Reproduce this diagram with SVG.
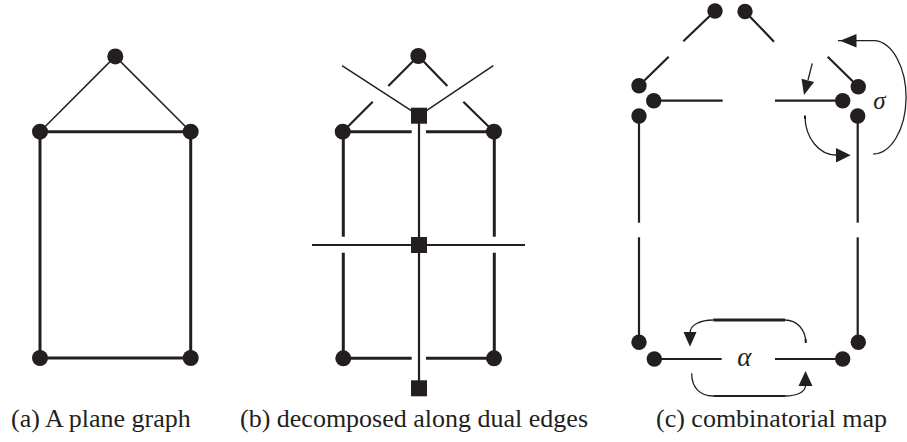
<svg xmlns="http://www.w3.org/2000/svg" width="907" height="442" viewBox="0 0 907 442">
<defs>
<style>
.thick{stroke:#231f20;stroke-width:3;fill:none;stroke-linecap:butt}
.mid{stroke:#231f20;stroke-width:2.2;fill:none}
.thin{stroke:#231f20;stroke-width:1.5;fill:none}
.arc{stroke:#231f20;stroke-width:1.3;fill:none}
.dot{fill:#231f20}
.sq{fill:#231f20}
.head{fill:#231f20}
.cap{font-family:"Liberation Serif","Times New Roman",serif;font-size:26px;fill:#231f20}
.greek{font-family:"Liberation Serif","DejaVu Serif",serif;font-style:italic;fill:#231f20}
</style>
</defs>
<rect width="907" height="442" fill="#ffffff"/>

<!-- Panel (a) -->
<g id="edges-a">
<line class="thin" x1="115.3" y1="56.4" x2="40" y2="131.7"/>
<line class="thin" x1="115.3" y1="56.4" x2="190.7" y2="131.7"/>
<line class="thick" x1="40" y1="131.7" x2="190.7" y2="131.7"/>
<line class="thick" x1="40" y1="131.7" x2="40" y2="358"/>
<line class="thick" x1="190.7" y1="131.7" x2="190.7" y2="358"/>
<line class="thick" x1="40" y1="358" x2="190.7" y2="358"/>
</g>
<g id="a-v1"><circle class="dot" cx="115.3" cy="56.4" r="8"/></g>
<g id="a-v2"><circle class="dot" cx="40" cy="131.7" r="8"/></g>
<g id="a-v3"><circle class="dot" cx="190.7" cy="131.7" r="8"/></g>
<g id="a-v4"><circle class="dot" cx="40" cy="358" r="8"/></g>
<g id="a-v5"><circle class="dot" cx="190.7" cy="358" r="8"/></g>

<!-- Panel (b) -->
<g id="edges-b">
<line class="mid" x1="418.3" y1="56" x2="388.3" y2="86"/>
<line class="mid" x1="372.7" y1="101.7" x2="342.7" y2="131.7"/>
<line class="mid" x1="418.3" y1="56" x2="447.3" y2="86"/>
<line class="mid" x1="463.3" y1="101.7" x2="494" y2="131.7"/>
<line class="thin" x1="342" y1="65.7" x2="419" y2="115.7"/>
<line class="thin" x1="493.3" y1="65.7" x2="419" y2="115.7"/>
<line class="thick" x1="342.7" y1="131.7" x2="411.7" y2="131.7"/>
<line class="thick" x1="426" y1="131.7" x2="494" y2="131.7"/>
<line class="thick" x1="343.3" y1="131.7" x2="343.3" y2="236.7"/>
<line class="thick" x1="343.3" y1="252.7" x2="343.3" y2="358.3"/>
<line class="thick" x1="494.3" y1="131.7" x2="494.3" y2="236.7"/>
<line class="thick" x1="494.3" y1="252.7" x2="494.3" y2="358.3"/>
<line class="mid" x1="419" y1="115.7" x2="419" y2="388.3"/>
<line class="mid" x1="312" y1="245" x2="525" y2="245"/>
<line class="thick" x1="343.3" y1="358.3" x2="411.7" y2="358.3"/>
<line class="thick" x1="426" y1="358.3" x2="494" y2="358.3"/>
</g>
<g id="b-v1"><circle class="dot" cx="418.3" cy="56" r="8"/></g>
<g id="b-v2"><circle class="dot" cx="342.7" cy="131.7" r="8"/></g>
<g id="b-v3"><circle class="dot" cx="494" cy="131.7" r="8"/></g>
<g id="b-v4"><circle class="dot" cx="343.3" cy="358.3" r="8"/></g>
<g id="b-v5"><circle class="dot" cx="494" cy="358.3" r="8"/></g>
<g id="b-f1"><rect class="sq" x="411" y="107.7" width="16" height="16"/></g>
<g id="b-f2"><rect class="sq" x="411" y="237" width="16" height="16"/></g>
<g id="b-f3"><rect class="sq" x="411" y="380.3" width="16" height="16"/></g>

<!-- Panel (c) -->
<g id="edges-c">
<line class="mid" x1="715" y1="11" x2="683.3" y2="41.3"/>
<line class="mid" x1="668.7" y1="56.7" x2="639" y2="85.7"/>
<line class="mid" x1="745" y1="11.5" x2="774" y2="41.7"/>
<line class="mid" x1="827.7" y1="56.7" x2="858.3" y2="86.7"/>
<line class="mid" x1="653.7" y1="100.7" x2="722.7" y2="100.7"/>
<line class="mid" x1="775" y1="100.7" x2="842.7" y2="100.7"/>
<line class="mid" x1="639" y1="116" x2="639" y2="222.7"/>
<line class="mid" x1="639" y1="237.3" x2="639" y2="342.3"/>
<line class="mid" x1="857.7" y1="116" x2="857.7" y2="222.7"/>
<line class="mid" x1="857.7" y1="237.3" x2="857.7" y2="342.3"/>
<line class="mid" x1="654.3" y1="359" x2="721.7" y2="359"/>
<line class="mid" x1="775" y1="359" x2="842.7" y2="359"/>
</g>
<g id="c-d1"><circle class="dot" cx="715" cy="11" r="7.7"/></g>
<g id="c-d2"><circle class="dot" cx="745" cy="11.5" r="7.7"/></g>
<g id="c-d3"><circle class="dot" cx="639" cy="85.7" r="7.7"/></g>
<g id="c-d4"><circle class="dot" cx="653.7" cy="100.7" r="7.7"/></g>
<g id="c-d5"><circle class="dot" cx="639" cy="116" r="7.7"/></g>
<g id="c-d6"><circle class="dot" cx="858.3" cy="86.7" r="7.7"/></g>
<g id="c-d7"><circle class="dot" cx="842.7" cy="100.7" r="7.7"/></g>
<g id="c-d8"><circle class="dot" cx="857.7" cy="116" r="7.7"/></g>
<g id="c-d9"><circle class="dot" cx="639" cy="342.3" r="7.7"/></g>
<g id="c-d10"><circle class="dot" cx="654.3" cy="359" r="7.7"/></g>
<g id="c-d11"><circle class="dot" cx="858.3" cy="342.3" r="7.7"/></g>
<g id="c-d12"><circle class="dot" cx="842.7" cy="359" r="7.7"/></g>

<!-- sigma arrows -->
<g id="sigma-arrows">
<path class="arc" d="M838,40.7 L875,40.7 A33,56.7 0 0 1 873.3,154"/>
<polygon class="head" points="840,40.7 856.5,34 856.5,47.4"/>
<line class="arc" x1="812.3" y1="63.3" x2="808" y2="80"/>
<polygon class="head" points="804,95 814.1,82.1 801.5,78.8"/>
<path class="arc" d="M805,116 A31,39 0 0 0 837,155"/>
<line stroke="#231f20" stroke-width="2" x1="805" y1="115.5" x2="805" y2="119"/>
<polygon class="head" points="850.7,155.3 836,148 836,162.6"/>
<text class="greek" x="879.3" y="108.5" text-anchor="middle" font-size="25">σ</text>
</g>

<!-- alpha arrows -->
<g id="alpha-arrows">
<path class="arc" d="M805.7,342.3 C805.7,330 797,320 785,320"/>
<line stroke="#231f20" stroke-width="3" x1="713.3" y1="320" x2="785" y2="320"/>
<path class="arc" d="M713.3,320 C700,320 690,325 690,333"/>
<line stroke="#231f20" stroke-width="2" x1="805.7" y1="339" x2="805.7" y2="343"/>
<polygon class="head" points="690,346.7 683.5,332 696.5,332"/>
<path class="arc" d="M691.7,373.3 C691.7,388 700,396 713.3,396"/>
<line stroke="#231f20" stroke-width="2" x1="713.3" y1="396" x2="785" y2="396"/>
<path class="arc" d="M785,396 C797,396 805,392 805.5,386"/>
<polygon class="head" points="805.5,371 798.5,386 812.5,386"/>
<text class="greek" x="744.3" y="366" text-anchor="middle" font-size="27">α</text>
</g>

<!-- captions -->
<g id="captions">
<text class="cap" x="11" y="427">(a) A plane graph</text>
<text class="cap" x="240" y="427">(b) decomposed along dual edges</text>
<text class="cap" x="656" y="427">(c) combinatorial map</text>
</g>
</svg>
